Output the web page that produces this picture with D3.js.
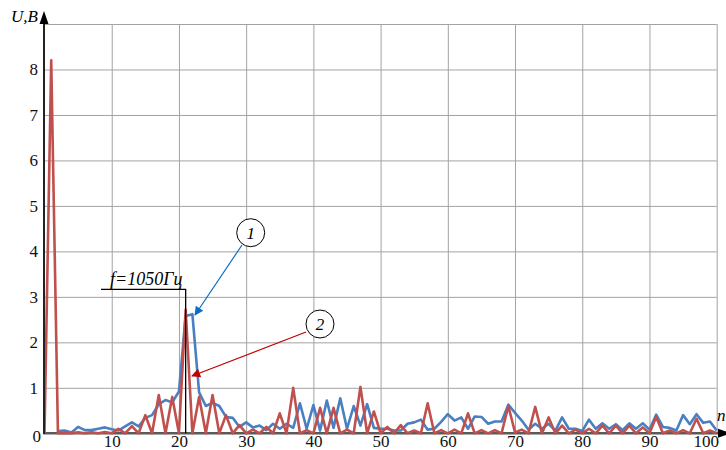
<!DOCTYPE html>
<html>
<head>
<meta charset="utf-8">
<script src="https://cdn.jsdelivr.net/npm/d3@7"></script>
<style>
  body { margin: 0; background: #fff; }
  svg text { font-family: "Liberation Serif", "Times New Roman", Times, "DejaVu Serif", serif; }
</style>
</head>
<body>
<div id="chart"></div>
<script>
// harmonic numbers n (0..100) and amplitudes U, V
const harmonics = d3.range(0, 101);

// curve 1 (blue), starts at n = 2
const blueStart = 2;
const blueValues = [
  0.05, 0.06, 0.02, 0.14, 0.07, 0.07, 0.10, 0.13, 0.09,            // 2-10
  0.06, 0.15, 0.24, 0.15, 0.34, 0.40, 0.64, 0.73, 0.68, 0.92,      // 11-20
  2.58, 2.62, 0.90, 0.60, 0.67, 0.60, 0.36, 0.34, 0.14, 0.24,      // 21-30
  0.13, 0.17, 0.07, 0.21, 0.10, 0.21, 0.12, 0.66, 0.10, 0.62,      // 31-40
  0.06, 0.72, 0.12, 0.77, 0.10, 0.60, 0.17, 0.64, 0.12, 0.10,      // 41-50
  0.10, 0.06, 0.06, 0.21, 0.24, 0.30, 0.08, 0.10, 0.25, 0.42,      // 51-60
  0.28, 0.35, 0.10, 0.37, 0.36, 0.21, 0.26, 0.26, 0.63, 0.45,      // 61-70
  0.28, 0.08, 0.21, 0.10, 0.21, 0.06, 0.35, 0.10, 0.10, 0.05,      // 71-80
  0.30, 0.10, 0.22, 0.10, 0.20, 0.07, 0.22, 0.10, 0.22, 0.08,      // 81-90
  0.41, 0.14, 0.12, 0.06, 0.40, 0.20, 0.42, 0.23, 0.26, 0.06       // 91-100
];

// curve 2 (red), n = 0..100
const redValues = [
  0.00, 8.20, 0.00, 0.00, 0.00, 0.02, 0.00, 0.02, 0.00, 0.03, 0.00, // 0-10
  0.10, 0.00, 0.16, 0.00, 0.40, 0.00, 0.84, 0.00, 0.80, 0.00,       // 11-20
  2.72, 0.00, 0.80, 0.00, 0.84, 0.00, 0.40, 0.00, 0.18, 0.00,       // 21-30
  0.08, 0.00, 0.14, 0.00, 0.44, 0.00, 1.00, 0.00, 0.07, 0.00,       // 31-40
  0.56, 0.00, 0.56, 0.00, 0.08, 0.00, 1.02, 0.00, 0.48, 0.00,       // 41-50
  0.14, 0.00, 0.18, 0.00, 0.06, 0.00, 0.66, 0.00, 0.07, 0.00,       // 51-60
  0.08, 0.00, 0.44, 0.00, 0.07, 0.00, 0.07, 0.00, 0.60, 0.02,       // 61-70
  0.08, 0.00, 0.58, 0.00, 0.35, 0.00, 0.17, 0.00, 0.08, 0.00,       // 71-80
  0.10, 0.00, 0.17, 0.00, 0.17, 0.00, 0.17, 0.00, 0.13, 0.00,       // 81-90
  0.36, 0.00, 0.06, 0.00, 0.07, 0.00, 0.32, 0.00, 0.06, 0.00        // 91-100
];

const xTicks = [10, 20, 30, 40, 50, 60, 70, 80, 90, 100];
const yTicks = [0, 1, 2, 3, 4, 5, 6, 7, 8];
const yGrid = [1, 2, 3, 4, 5, 6, 7, 8, 9];

// annotation
const markerN = 21;
const markerLabel = "f=1050Гц";

const width = 726, height = 450;
const plotLeft = 44.5, plotRight = 716.7, plotTop = 24, plotBottom = 433.3;
const serif = '"Liberation Serif", "Times New Roman", Times, "DejaVu Serif", serif';

const x = d3.scaleLinear().domain([0, 100]).range([plotLeft, plotRight]);
const y = d3.scaleLinear().domain([0, 9]).range([plotBottom, plotTop]);

const svg = d3.select("#chart").append("svg")
  .attr("width", width).attr("height", height);

const defs = svg.append("defs");
function arrowMarker(id, color) {
  defs.append("marker")
    .attr("id", id)
    .attr("viewBox", "0 0 10 10")
    .attr("refX", 9).attr("refY", 5)
    .attr("markerWidth", 12).attr("markerHeight", 9)
    .attr("markerUnits", "userSpaceOnUse")
    .attr("orient", "auto")
    .append("path").attr("d", "M0,0 L10,5 L0,10 Z").attr("fill", color);
}
arrowMarker("arrBlue", "#0a6fc2");
arrowMarker("arrRed", "#c00000");

// grid
const gx = svg.append("g")
  .attr("transform", `translate(0,${plotBottom})`)
  .call(d3.axisBottom(x).tickValues(xTicks).tickSize(-(plotBottom - plotTop)).tickFormat(""));
gx.select(".domain").remove();
gx.selectAll("line").attr("stroke", "#a3a3a3").attr("stroke-width", 1);

const gy = svg.append("g")
  .attr("transform", `translate(${plotLeft},0)`)
  .call(d3.axisLeft(y).tickValues(yGrid).tickSize(-(plotRight - plotLeft)).tickFormat(""));
gy.select(".domain").remove();
gy.selectAll("line").attr("stroke", "#a3a3a3").attr("stroke-width", 1);

// baseline
svg.append("line")
  .attr("x1", plotLeft).attr("x2", 718)
  .attr("y1", y(0)).attr("y2", y(0))
  .attr("stroke", "#5a5a5a").attr("stroke-width", 2.6);

// tick labels
const lx = svg.append("g")
  .attr("transform", `translate(0,${plotBottom})`)
  .attr("font-family", serif)
  .call(d3.axisBottom(x).tickValues(xTicks).tickSize(0).tickPadding(2));
lx.attr("font-family", serif);
lx.select(".domain").remove();
lx.selectAll("text").attr("font-size", 17).attr("fill", "#111");
lx.selectAll(".tick").filter(d => d === 100).select("text").attr("x", -11);

const ly = svg.append("g")
  .attr("transform", `translate(38,0)`)
  .call(d3.axisLeft(y).tickValues(yTicks).tickSize(0).tickPadding(0));
ly.attr("font-family", serif);
ly.select(".domain").remove();
ly.selectAll("text").attr("font-size", 17).attr("fill", "#111");
ly.selectAll(".tick").filter(d => d === 0).select("text")
  .attr("x", 3).attr("y", 3);

// series
const line = d3.line().x(d => x(d[0])).y(d => y(d[1]));
const blueData = blueValues.map((v, i) => [blueStart + i, v]);
const redData = harmonics.map(n => [n, redValues[n]]);

svg.append("path").datum(blueData)
  .attr("d", line).attr("fill", "none")
  .attr("stroke", "#4a7fc1").attr("stroke-width", 2.6)
  .attr("stroke-linejoin", "round");

svg.append("path").datum(redData)
  .attr("d", line).attr("fill", "none")
  .attr("stroke", "#c0504d").attr("stroke-width", 2.6)
  .attr("stroke-linejoin", "round");

// axes with arrows
svg.append("line")
  .attr("x1", 44).attr("x2", 44).attr("y1", plotTop).attr("y2", plotBottom + 1)
  .attr("stroke", "#222").attr("stroke-width", 2);
svg.append("path")
  .attr("d", "M39.5,24 L44,11 L48.5,24 Z").attr("fill", "#000");
svg.append("path")
  .attr("d", `M718,${plotBottom - 4.5} L731,${plotBottom} L718,${plotBottom + 4.5} Z`).attr("fill", "#000");

svg.append("text").attr("x", 11).attr("y", 22)
  .attr("font-size", 17).attr("font-style", "italic").text("U,B");
svg.append("text").attr("x", 717).attr("y", 421)
  .attr("font-size", 17).attr("font-style", "italic").text("n");

// frequency marker
const fy = 289.3;
svg.append("polyline")
  .attr("points", `101,${fy} ${x(markerN)},${fy} ${x(markerN)},${plotBottom}`)
  .attr("fill", "none").attr("stroke", "#000").attr("stroke-width", 1.3);
svg.append("text").attr("x", 110).attr("y", 285)
  .attr("font-size", 18).attr("font-style", "italic").text(markerLabel);

// callouts
const callouts = [
  { label: "1", cx: 250.7, cy: 232.7, from: [242, 245], to: [195, 315], marker: "arrBlue", color: "#0a6fc2" },
  { label: "2", cx: 320, cy: 324, from: [306, 332], to: [192, 376], marker: "arrRed", color: "#c00000" }
];
callouts.forEach(c => {
  svg.append("line")
    .attr("x1", c.from[0]).attr("y1", c.from[1])
    .attr("x2", c.to[0]).attr("y2", c.to[1])
    .attr("stroke", c.color).attr("stroke-width", 1.2)
    .attr("marker-end", `url(#${c.marker})`);
  svg.append("circle").attr("cx", c.cx).attr("cy", c.cy).attr("r", 14)
    .attr("fill", "#fff").attr("stroke", "#000").attr("stroke-width", 1);
  svg.append("text").attr("x", c.cx).attr("y", c.cy + 6)
    .attr("text-anchor", "middle").attr("font-size", 17)
    .attr("font-style", "italic").text(c.label);
});
</script>
</body>
</html>
